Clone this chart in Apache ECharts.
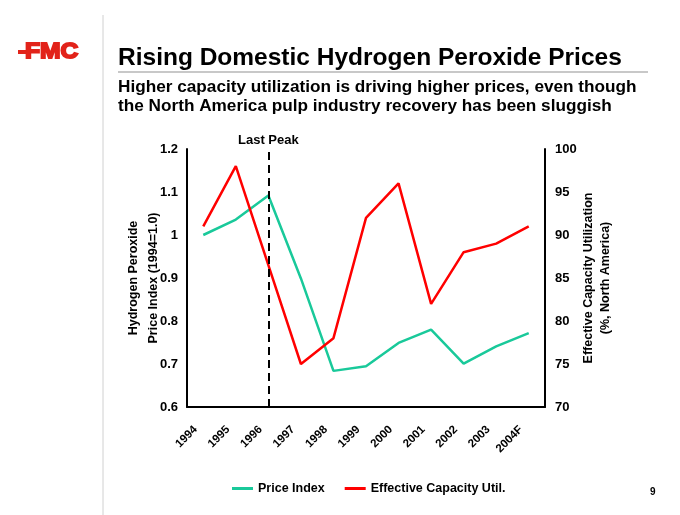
<!DOCTYPE html>
<html><head><meta charset="utf-8">
<script src="https://cdn.jsdelivr.net/npm/echarts@6/dist/echarts.min.js"></script>
<style>html,body{margin:0;padding:0;background:#fff}#c{width:680px;height:515px}</style>
</head><body><div id="c"></div>
<script>
const categories = ['1994','1995','1996','1997','1998','1999','2000','2001','2002','2003','2004F'];
const priceIndex = [1.0, 1.036, 1.092, 0.899, 0.684, 0.695, 0.749, 0.780, 0.701, 0.741, 0.772];
const capacityUtil = [91, 98, 86.5, 75, 78, 92, 96, 82, 88, 89, 91];
const leftTicks = [0.6, 0.7, 0.8, 0.9, 1, 1.1, 1.2];
const rightTicks = [70, 75, 80, 85, 90, 95, 100];
const peakYear = '1996';

const FONT = '"Liberation Sans", Arial, sans-serif';
const chart = echarts.init(document.getElementById('c'), null, {renderer: 'canvas'});
chart.setOption({
  backgroundColor: '#fff',
  animation: false,
  textStyle: {fontFamily: FONT},
  title: [
    {text: 'Rising Domestic Hydrogen Peroxide Prices', left: 118, top: 46, padding: 0,
     textStyle: {fontSize: 24.5, fontWeight: 'bold', color: '#000', fontFamily: FONT}},
    {text: 'Higher capacity utilization is driving higher prices, even though\nthe North America pulp industry recovery has been sluggish',
     left: 118, top: 78, padding: 0,
     textStyle: {fontSize: 17.2, fontWeight: 'bold', color: '#000', lineHeight: 19, fontFamily: FONT}},
    {text: '9', left: 650, top: 487, padding: 0, textStyle: {fontSize: 10, fontWeight: 'bold', color: '#000', fontFamily: FONT}}
  ],
  graphic: [
    {type: 'line', shape: {x1: 103, y1: 15, x2: 103, y2: 515}, style: {stroke: '#d0d0d0', lineWidth: 1}},
    {type: 'line', shape: {x1: 118, y1: 72, x2: 648, y2: 72}, style: {stroke: '#c8c8c8', lineWidth: 2}},
    {type: 'rect', shape: {x: 18, y: 50, width: 10, height: 4}, style: {fill: '#e2231a'}},
    {type: 'text', x: 25, y: 41, scaleX: 1.12,
     style: {text: 'FMC', fill: '#e2231a', stroke: '#e2231a', lineWidth: 1.8, textVerticalAlign: 'top',
             font: 'bold 22px "Liberation Sans", Arial, sans-serif'}}
  ],
  legend: {
    top: 477, left: 227, itemGap: 20, itemWidth: 21, itemHeight: 3,
    icon: 'rect',
    textStyle: {fontSize: 12.5, fontWeight: 'bold', color: '#000', fontFamily: FONT},
    data: ['Price Index', 'Effective Capacity Util.']
  },
  grid: {left: 187, right: 135, top: 149, bottom: 108, containLabel: false},
  xAxis: {
    type: 'category', data: categories, boundaryGap: true,
    axisLine: {lineStyle: {color: '#000', width: 2}},
    axisTick: {show: false},
    axisLabel: {rotate: 45, fontSize: 11.5, fontWeight: 'bold', color: '#000', margin: 13, interval: 0,
                padding: [0, 11, 0, 0], fontFamily: FONT}
  },
  yAxis: [
    {type: 'value', min: leftTicks[0], max: leftTicks[leftTicks.length-1], interval: 0.1,
     name: 'Hydrogen Peroxide\nPrice Index (1994=1.0)', nameLocation: 'middle', nameGap: 23, nameRotate: 90,
     nameMoveOverlap: false,
     nameTextStyle: {fontSize: 12.5, fontWeight: 'bold', color: '#000', lineHeight: 20, fontFamily: FONT},
     axisLine: {show: true, lineStyle: {color: '#000', width: 2}}, axisTick: {show: false}, splitLine: {show: false},
     axisLabel: {fontSize: 13, fontWeight: 'bold', color: '#000', margin: 9, fontFamily: FONT,
       formatter: v => String(Math.round(v*10)/10)}},
    {type: 'value', min: rightTicks[0], max: rightTicks[rightTicks.length-1], interval: 5, position: 'right',
     name: 'Effective Capacity Utilization\n(%, North America)', nameLocation: 'middle', nameGap: 35, nameRotate: 90,
     nameMoveOverlap: false,
     nameTextStyle: {fontSize: 12.5, fontWeight: 'bold', color: '#000', lineHeight: 17, fontFamily: FONT},
     axisLine: {show: true, lineStyle: {color: '#000', width: 2}}, axisTick: {show: false}, splitLine: {show: false},
     axisLabel: {fontSize: 13, fontWeight: 'bold', color: '#000', margin: 10, fontFamily: FONT}}
  ],
  series: [
    {name: 'Price Index', type: 'line', data: priceIndex, yAxisIndex: 0, symbol: 'none',
     itemStyle: {color: '#19c99a'}, lineStyle: {color: '#19c99a', width: 2.5},
     markLine: {silent: true, symbol: 'none',
       lineStyle: {color: '#000', type: [8, 5], width: 2},
       label: {show: true, position: 'end', formatter: 'Last Peak', fontSize: 13, fontWeight: 'bold', color: '#000', distance: 2, fontFamily: FONT},
       data: [{xAxis: peakYear}]}},
    {name: 'Effective Capacity Util.', type: 'line', data: capacityUtil, yAxisIndex: 1, symbol: 'none',
     itemStyle: {color: '#ff0000'}, lineStyle: {color: '#ff0000', width: 2.5}}
  ]
});
</script></body></html>
